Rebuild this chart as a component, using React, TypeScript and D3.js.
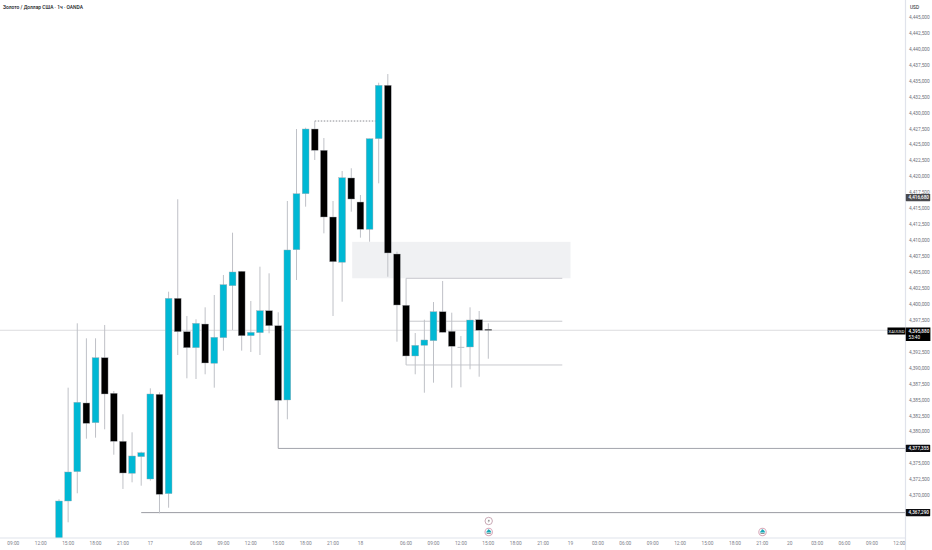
import React from "react";
import * as d3 from "d3";

const opens = [4361,4369.11,4373.71,4384.48,4381.39,4391.58,4386.0,4378.47,4373.45,4376.06,4372.56,4385.84,4370.26,4400.89,4395.66,4393.15,4396.86,4390.7,4394.72,4402.87,4405.13,4395.03,4395.5,4398.95,4396.6,4384.95,4408.51,4417.29,4427.44,4424.1,4413.64,4406.54,4419.76,4415.99,4411.71,4425.92,4434.29,4407.84,4399.8,4391.85,4393.52,4394.25,4398.79,4395.72,4393.26,4393.26,4397.54,4396.03];
const closes = [4369.11,4373.66,4384.59,4381.29,4391.58,4385.89,4378.47,4373.5,4376.17,4376.69,4385.89,4370.16,4400.89,4395.66,4393.15,4396.97,4390.75,4394.78,4403.03,4405.02,4395.03,4395.56,4398.95,4396.6,4384.9,4408.47,4417.29,4427.44,4424.1,4413.64,4406.63,4419.8,4416.46,4411.71,4425.92,4434.29,4408.0,4399.84,4391.85,4393.52,4394.36,4398.79,4395.56,4393.37,4393.28,4397.49,4395.88,4395.88];
const highs = [4369.38,4386.88,4396.97,4394.62,4394.62,4396.71,4386.36,4382.71,4379.88,4376.84,4386.78,4386.16,4401.93,4416.42,4398.12,4397.6,4399.48,4401.41,4404.55,4411.18,4405.17,4400.47,4405.85,4404.81,4398.7,4416.15,4427.44,4427.64,4428.69,4426.03,4416.15,4420.85,4421.28,4417.09,4425.92,4434.7,4436.06,4408.2,4404.03,4395.45,4397.54,4400.31,4403.61,4398.64,4394.98,4399.48,4398.9,4396.97];
const lows = [4358,4365.77,4370.32,4378.88,4379.04,4380.35,4376.37,4371.0,4372.04,4371.51,4372.3,4367.18,4368.06,4392.0,4388.35,4388.24,4388.98,4386.88,4392.68,4395.92,4392.68,4392.47,4392.0,4395.41,4384.9,4381.92,4403.76,4415.26,4422.58,4411.08,4398.12,4400.36,4414.47,4410.4,4409.77,4418.92,4404.28,4394.09,4390.44,4388.98,4386.09,4387.66,4395.56,4386.88,4386.94,4389.76,4388.6,4391.42];

const timeSlots = [-5,-2,1,4,7,10,15,18,21,24,27,30,33,38,41,44,47,50,53,56,59,62,65,68,71,74,77,80,83,86,89,92];
const timeLabels = ["09:00","12:00","15:00","18:00","21:00","17","06:00","09:00","12:00","15:00","18:00","21:00","18","06:00","09:00","12:00","15:00","18:00","21:00","19","03:00","06:00","09:00","12:00","15:00","18:00","21:00","20","03:00","06:00","09:00","12:00"];
const priceTicks = d3.range(4367.5, 4445.01, 2.5);
const hiddenTicks = [4395, 4377.5, 4367.5];

const zoneSlots = [32.1, 56];
const zonePrices = [4409.75, 4404.03];
const levelPrices = [4404.03, 4397.3, 4390.44];
const levelSlots = [38, 55.1];
const sweptLow = 4377.355;
const sweptLowOpen = 4384.9;
const deepLow = 4367.29;
const lastPrice = 4395.88;
const refPrice = 4416.68;

const W = 932, H = 550, AX = 905.5, BOT = 538;
const UP = "#00b8d4", DOWN = "#000000", WICK = "#bfc1c7", LINE = "#a3a5ac";
const FONT = "Roboto, 'Liberation Sans', sans-serif";

const x = d3.scaleLinear().domain([0, 47]).range([59, 488.3]);
const y = d3.scaleLinear().domain([4400, 4445]).range([304, 17]);
const fmt = (p: number) => d3.format(",.3f")(p).replace(".", ",");

function PriceTag({ p, fill, label }: { p: number; fill: string; label: string }) {
  return (
    <g>
      <rect x={905.8} y={y(p) - 3.6} width={24.4} height={7.2} fill={fill} rx={0.6} />
      <text x={908.6} y={y(p) + 1.7} fontSize={4.6} fill="#fff" fontWeight={500}>{label}</text>
    </g>
  );
}

function NewsIcon({ cx, cy }: { cx: number; cy: number }) {
  return (
    <g>
      <circle cx={cx} cy={cy} r={3.7} fill="#fff" stroke="#d8aabb" strokeWidth={1.1} />
      <path d={`M${cx - 2.6} ${cy + 0.4}C${cx - 2.2} ${cy - 1},${cx - 1} ${cy - 1},${cx - 0.6} ${cy - 2.8}C${cx + 1.2} ${cy - 2.6},${cx + 2.5} ${cy - 1},${cx + 2.6} ${cy + 0.4}Z`} fill="#18a9b8" />
      <rect x={cx - 2} y={cy + 1.2} width={4} height={0.7} fill="#666" />
    </g>
  );
}

export default function App() {
  return (
    <svg width={W} height={H} viewBox={`0 0 ${W} ${H}`} fontFamily={FONT}
      style={{ position: "absolute", left: 0, top: 0, background: "#fff" }}>
      <defs>
        <clipPath id="plot"><rect x={0} y={0} width={AX} height={BOT} /></clipPath>
      </defs>

      <rect x={x(zoneSlots[0])} y={y(zonePrices[0])} width={x(zoneSlots[1]) - x(zoneSlots[0])}
        height={y(zonePrices[1]) - y(zonePrices[0])} fill="#f0f1f3" />
      <line x1={0} x2={AX} y1={y(lastPrice)} y2={y(lastPrice)} stroke="#dcdcdf" strokeWidth={1} />

      <path d={`M${x(28)} ${y(highs[28])}H${x(35)}`} stroke="#8a8c92" strokeWidth={1} strokeDasharray="1.5 1.5" fill="none" />
      {levelPrices.map((p) => (
        <line key={p} x1={x(levelSlots[0])} x2={x(levelSlots[1])} y1={y(p)} y2={y(p)} stroke="#c8c9ce" strokeWidth={1} />
      ))}
      <path d={`M${x(24)} ${y(sweptLowOpen)}V${y(sweptLow)}H${AX}`} stroke={LINE} strokeWidth={1} fill="none" />
      <line x1={x(9)} x2={AX} y1={y(deepLow)} y2={y(deepLow)} stroke="#9a9ca2" strokeWidth={1} />

      <g clipPath="url(#plot)">
        {opens.map((o, i) => {
          const c = closes[i];
          const top = y(Math.max(o, c));
          const bot = y(Math.min(o, c));
          const doji = bot - top < 0.6;
          const isUp = c >= o;
          return (
            <g key={i}>
              <line x1={x(i)} x2={x(i)} y1={y(highs[i])} y2={y(lows[i])} stroke={WICK} strokeWidth={1} />
              <rect x={x(i) - 3.4} y={top} width={6.8} height={Math.max(bot - top, 1)}
                fill={doji ? "#bfc1c7" : isUp ? UP : DOWN} stroke={doji ? "none" : "#a9abb1"} strokeWidth={0.4} />
            </g>
          );
        })}
      </g>

      <text x={3} y={8.8} fontSize={4.9} fill="#131722" fontWeight={500}>Золото / Доллар США · 1ч · OANDA</text>

      <line x1={0} x2={AX} y1={BOT} y2={BOT} stroke="#e0e3eb" strokeWidth={1.2} />
      <line x1={AX} x2={AX} y1={0} y2={H} stroke="#e0e3eb" strokeWidth={1.2} />

      {timeSlots.map((s, i) => (
        <text key={i} x={x(s)} y={545.4} textAnchor="middle" fontSize={4.8} fill="#7d808a">{timeLabels[i]}</text>
      ))}
      {priceTicks.filter((p) => !hiddenTicks.includes(p)).map((p) => (
        <text key={p} x={909} y={y(p) + 1.9} fontSize={4.8} fill="#6f727c">{fmt(p)}</text>
      ))}
      <text x={910} y={9} fontSize={4.8} fill="#131722">USD</text>

      <PriceTag p={refPrice} fill="#4a4a4e" label={fmt(refPrice)} />
      <PriceTag p={sweptLow} fill="#0c0c10" label={fmt(sweptLow)} />
      <PriceTag p={deepLow} fill="#0c0c10" label={fmt(deepLow)} />

      <rect x={887.5} y={327.5} width={18} height={7} fill="#000" />
      <text x={888.6} y={332.8} fontSize={4.2} fill="#fff">XAUUSD</text>
      <rect x={905.8} y={327.5} width={24.6} height={13.5} fill="#000" />
      <text x={908.6} y={332.9} fontSize={4.7} fill="#fff" fontWeight={500}>{fmt(lastPrice)}</text>
      <text x={908.6} y={339.2} fontSize={4.6} fill="#fff">53:40</text>

      <circle cx={488.7} cy={521} r={3.7} fill="#fff" stroke="#c9a9b5" strokeWidth={1} />
      <path d="M489.5 518.8L487.6 521.3H489L487.9 523.2L490 520.6H488.6Z" fill="#666" />
      <NewsIcon cx={488.7} cy={532} />
      <NewsIcon cx={762.5} cy={532} />
    </svg>
  );
}
